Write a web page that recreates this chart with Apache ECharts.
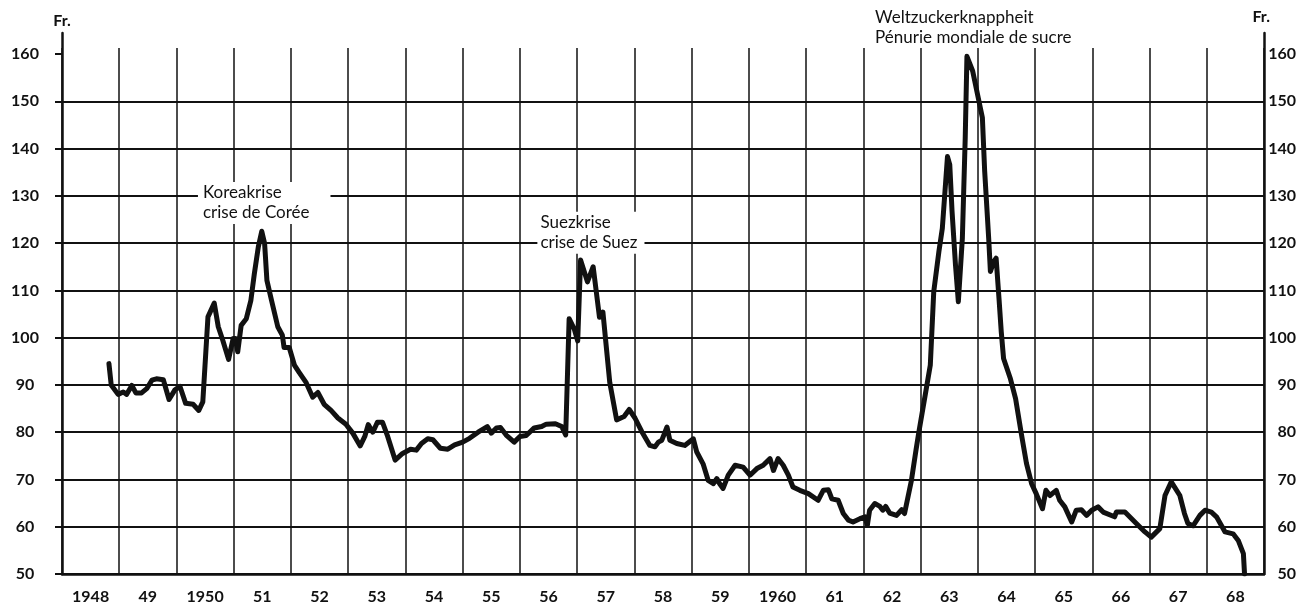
<!DOCTYPE html>
<html>
<head>
<meta charset="utf-8">
<script src="https://cdn.jsdelivr.net/npm/echarts@6/dist/echarts.min.js"></script>
<style>html,body{margin:0;padding:0;background:#fff}#c{width:1302px;height:607px}</style>
</head>
<body>
<div id="c"></div>
<script>
// ---- data ----
const yearLabels = ['1948','49','1950','51','52','53','54','55','56','57','58','59','1960','61','62','63','64','65','66','67','68'];
const yTicks = [50,60,70,80,90,100,110,120,130,140,150,160];

// time (fractional year) and price (Fr.)
const time = [
1948.82,1948.86,1948.98,1949.07,1949.13,1949.22,1949.29,1949.39,1949.48,1949.57,1949.65,1949.77,1949.87,1949.97,
1950.06,1950.16,1950.29,1950.39,1950.46,1950.55,1950.66,1950.73,1950.81,1950.91,1950.99,
1951.03,1951.07,1951.13,1951.22,1951.30,1951.36,1951.43,1951.49,1951.54,1951.58,1951.66,1951.77,1951.85,1951.88,1951.97,
1952.06,1952.14,1952.26,1952.38,1952.47,1952.58,1952.70,1952.82,1952.96,
1953.08,1953.21,1953.29,1953.35,1953.43,1953.51,1953.60,1953.69,1953.82,1953.95,
1954.09,1954.19,1954.28,1954.39,1954.48,1954.61,1954.74,1954.86,
1955.00,1955.12,1955.27,1955.43,1955.50,1955.59,1955.66,1955.76,1955.90,
1956.00,1956.11,1956.25,1956.38,1956.46,1956.62,1956.73,1956.80,1956.86,1956.95,
1957.01,1957.06,1957.18,1957.28,1957.39,1957.45,1957.57,1957.69,1957.82,1957.91,
1958.01,1958.13,1958.27,1958.36,1958.42,1958.48,1958.57,1958.62,1958.74,1958.88,
1959.03,1959.09,1959.20,1959.29,1959.38,1959.44,1959.49,1959.55,1959.64,1959.76,1959.90,
1960.02,1960.14,1960.25,1960.37,1960.43,1960.51,1960.60,1960.69,1960.77,1960.89,
1961.04,1961.21,1961.30,1961.39,1961.45,1961.56,1961.65,1961.74,1961.82,1961.94,
1962.03,1962.07,1962.11,1962.20,1962.29,1962.34,1962.39,1962.46,1962.58,1962.67,1962.72,1962.84,1962.92,1962.97,
1963.09,1963.17,1963.23,1963.32,1963.38,1963.47,1963.51,1963.55,1963.61,1963.66,1963.73,1963.78,1963.81,1963.91,
1964.02,1964.08,1964.12,1964.19,1964.22,1964.28,1964.32,1964.37,1964.41,1964.45,1964.57,1964.66,1964.76,1964.85,1964.94,
1965.02,1965.13,1965.19,1965.26,1965.37,1965.43,1965.52,1965.64,1965.72,1965.81,1965.90,1965.99,
1966.10,1966.19,1966.39,1966.42,1966.57,1966.77,1966.92,
1967.03,1967.18,1967.27,1967.38,1967.53,1967.61,1967.67,1967.76,1967.88,1967.97,
1968.08,1968.17,1968.32,1968.46,1968.55,1968.64,1968.66
];
const price = [
94.5,90.0,88.0,88.5,88.0,89.9,88.3,88.3,89.2,91.0,91.3,91.1,86.9,88.9,
89.7,86.1,85.9,84.6,86.4,104.4,107.3,102.3,99.4,95.4,99.8,
99.8,97.0,102.6,104.0,107.9,113.5,119.2,122.5,119.9,112.1,107.9,102.3,100.5,97.9,97.9,
94.2,92.7,90.6,87.4,88.4,85.9,84.6,83.0,81.7,
79.8,77.1,79.1,81.6,80.0,82.1,82.1,79.1,74.1,75.5,
76.4,76.2,77.6,78.6,78.4,76.6,76.4,77.3,
77.9,78.7,80.0,81.2,79.8,80.9,81.0,79.4,77.9,
79.1,79.3,80.9,81.2,81.7,81.8,81.2,79.4,104.0,101.8,
99.3,116.4,111.8,115.0,104.3,105.4,90.5,82.6,83.3,84.8,
83.0,80.1,77.2,76.9,77.9,78.3,81.1,78.3,77.6,77.2,
78.6,75.8,73.3,69.8,69.1,70.2,69.1,68.1,70.9,73.0,72.6,
70.9,72.3,73.0,74.4,71.9,74.4,73.0,70.9,68.4,67.7,
67.0,65.6,67.7,67.8,65.9,65.6,62.8,61.4,61.0,61.7,
62.1,60.3,63.5,64.9,64.3,63.5,64.3,62.9,62.4,63.6,62.8,69.8,76.2,80.0,
88.5,94.2,109.7,118.2,123.1,138.3,136.6,126.7,115.4,107.6,121.0,142.2,159.5,156.4,
150.0,146.5,135.2,121.0,114.0,116.1,116.8,108.3,101.2,95.6,91.3,87.1,79.7,73.4,69.1,
67.0,63.8,67.7,66.6,67.7,65.6,64.2,61.0,63.5,63.6,62.4,63.5,
64.2,63.1,62.1,63.1,63.1,60.7,58.9,
57.8,59.6,66.6,69.5,66.6,62.8,60.7,60.2,62.4,63.5,
63.1,62.1,58.9,58.5,57.1,54.3,50.0
];

// annotations: text lines and anchor (year, value)
const noteKorea = { text: 'Koreakrise\ncrise de Corée', at: [1950.37, 128.4] };
const noteSuez  = { text: 'Suezkrise\ncrise de Suez', at: [1956.30, 122.1] };
const noteSugar = { text: 'Weltzuckerknappheit\nPénurie mondiale de sucre', at: [1962.20, 160] };

// ---- chart ----
const FONT = 'Lato';
const INK = '#111';
const yMin = 50, yTop = 160;
const yMax = yTop + 6 * (yTop - yMin) / 520; // small stub of grid above 160

const series = time.map((t, i) => [t, price[i]]);

function note(n, padding, offset) {
  return {
    coord: n.at,
    symbolSize: 1,
    itemStyle: { color: 'rgba(0,0,0,0)' },
    label: {
      show: true, position: 'right', distance: 0,
      offset: offset || [0, 0],
      formatter: n.text,
      color: INK, fontFamily: FONT, fontSize: 17, lineHeight: 20,
      backgroundColor: '#fff', padding: padding, align: 'left'
    }
  };
}

const tickFmt = v => (yTicks.indexOf(Math.round(v)) >= 0 && Math.abs(v - Math.round(v)) < 1e-6) ? String(Math.round(v)) : '';

const chart = echarts.init(document.getElementById('c'), null, { renderer: 'canvas' });
chart.setOption({
  animation: false,
  backgroundColor: '#fff',
  grid: [
    { left: 62, right: 38, top: 48, bottom: 33, outerBoundsMode: 'none', containLabel: false },
    { left: 62, right: 38, top: 33, bottom: 33, outerBoundsMode: 'none', containLabel: false }
  ],
  xAxis: [
    {
      type: 'category', gridIndex: 0, data: yearLabels, boundaryGap: true,
      axisLine: { show: true, lineStyle: { color: INK, width: 2.5 } },
      axisTick: { show: false },
      axisLabel: { interval: 0, margin: 15, color: INK, fontFamily: FONT, fontSize: 16, fontWeight: 'bold' },
      splitLine: { show: true, interval: 0, lineStyle: { color: INK, width: 1.5 } }
    },
    { type: 'value', gridIndex: 0, min: 1948, max: 1969, show: false },
    { type: 'value', gridIndex: 1, min: 0, max: 1, show: false }
  ],
  yAxis: [
    {
      type: 'value', gridIndex: 0, position: 'left', min: yMin, max: yMax, interval: 10,
      axisLine: { show: false },
      axisTick: { show: true, inside: false, length: 7, customValues: yTicks, lineStyle: { color: INK, width: 2 } },
      axisLabel: {
        customValues: yTicks, align: 'center', margin: 37, padding: [0, 0, 6, 0],
        color: INK, fontFamily: FONT, fontSize: 16, fontWeight: 'bold', formatter: tickFmt
      },
      splitLine: { show: true, showMaxLine: false, lineStyle: { color: INK, width: 2 } }
    },
    {
      type: 'value', gridIndex: 0, position: 'right', min: yMin, max: yMax, interval: 10,
      axisLine: { show: false }, axisTick: { show: false },
      axisLabel: {
        customValues: yTicks, align: 'right', margin: 32, padding: [0, 0, 10, 0],
        color: INK, fontFamily: FONT, fontSize: 16, fontWeight: 'bold', formatter: tickFmt
      },
      splitLine: { show: false }
    },
    {
      type: 'value', gridIndex: 1, position: 'left', min: 0, max: 1,
      name: 'Fr.', nameLocation: 'end', nameGap: 4,
      nameTextStyle: { color: INK, fontFamily: FONT, fontSize: 16, fontWeight: 'bold', align: 'center' },
      axisLine: { show: true, lineStyle: { color: INK, width: 2.5 } },
      axisTick: { show: false }, axisLabel: { show: false }, splitLine: { show: false }
    },
    {
      type: 'value', gridIndex: 1, position: 'right', min: 0, max: 1,
      name: 'Fr.', nameLocation: 'end', nameGap: 8,
      nameTextStyle: { color: INK, fontFamily: FONT, fontSize: 16, fontWeight: 'bold', align: 'right', padding: [0, -6, 0, 0] },
      axisLine: { show: true, lineStyle: { color: INK, width: 2.5 } },
      axisTick: { show: false }, axisLabel: { show: false }, splitLine: { show: false }
    }
  ],
  series: [
    {
      type: 'line', xAxisIndex: 1, yAxisIndex: 0,
      data: series, showSymbol: false, smooth: false,
      lineStyle: { color: INK, width: 5, join: 'round', cap: 'round' },
      z: 5,
      markPoint: {
        silent: true, animation: false,
        data: [
          note(noteKorea, [1, 21, 1, 5]),
          note(noteSuez, [1, 7, 1, 3]),
          note(noteSugar, [0, 0, 0, 0], [0, -26])
        ]
      }
    }
  ]
});
</script>
</body>
</html>
